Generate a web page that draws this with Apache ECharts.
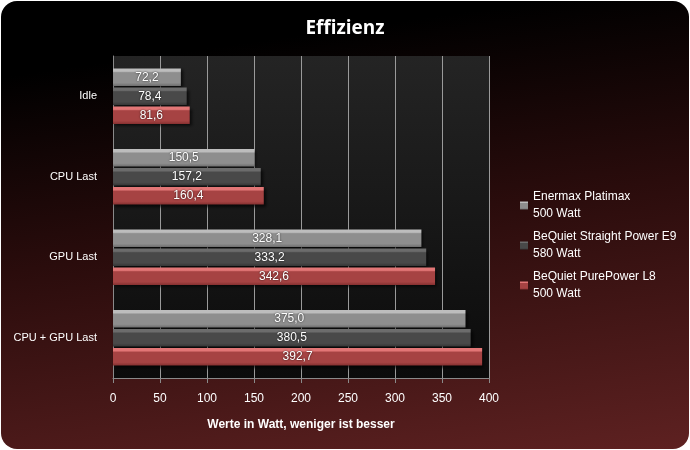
<!DOCTYPE html>
<html>
<head>
<meta charset="utf-8">
<script src="https://cdn.jsdelivr.net/npm/echarts@6/dist/echarts.min.js"></script>
<style>
  html, body { margin: 0; padding: 0; background: #fff; }
  #frame {
    width: 688px; height: 448px; margin: 1px;
    border-radius: 16px; overflow: hidden;
    background: linear-gradient(172deg, #000 0%, #000 14%, #2a0c0c 50%, #5e2121 100%);
  }
  #main { width: 690px; height: 450px; margin: -1px; }
</style>
</head>
<body>
<div id="frame"><div id="main"></div></div>
<script>
var categories = ['Idle', 'CPU Last', 'GPU Last', 'CPU + GPU Last'];
var enermax = [72.2, 150.5, 328.1, 375.0];
var straightPower = [78.4, 157.2, 333.2, 380.5];
var purePower = [81.6, 160.4, 342.6, 392.7];
var xTicks = [0, 400, 50];

function bevel(top, body, bottom) {
    return new echarts.graphic.LinearGradient(0, 0, 0, 1, [
        { offset: 0, color: top },
        { offset: 0.16, color: top },
        { offset: 0.24, color: body },
        { offset: 0.82, color: body },
        { offset: 1, color: bottom }
    ]);
}

function commaLabel(p) {
    return p.value.toFixed(1).replace('.', ',');
}

var font = 'Liberation Sans';
var myChart = echarts.init(document.getElementById('main'));

function barSeries(name, data, color) {
    return {
        name: name,
        type: 'bar',
        data: data,
        barGap: '9%',
        barCategoryGap: '31%',
        itemStyle: {
            color: color,
            shadowBlur: 3,
            shadowColor: 'rgba(0,0,0,0.7)',
            shadowOffsetX: 2,
            shadowOffsetY: 2
        },
        label: {
            show: true,
            position: 'inside',
            formatter: commaLabel,
            color: '#fff',
            fontFamily: font,
            fontSize: 12,
            textShadowColor: 'rgba(0,0,0,0.8)',
            textShadowBlur: 2
        }
    };
}

var option = {
    backgroundColor: 'transparent',
    title: {
        text: 'Effizienz',
        left: 'center',
        top: 14,
        textStyle: { color: '#fff', fontSize: 19, fontWeight: 'bold', fontFamily: 'Open Sans' }
    },
    legend: {
        orient: 'vertical',
        left: 520,
        top: 180,
        padding: 0,
        itemWidth: 8,
        itemHeight: 8,
        itemGap: -11,
        icon: 'rect',
        textStyle: { color: '#fff', fontFamily: font, fontSize: 12, lineHeight: 17, padding: [17, 0, 0, 0] },
        data: ['Enermax Platimax\n500 Watt', 'BeQuiet Straight Power E9\n580 Watt', 'BeQuiet PurePower L8\n500 Watt']
    },
    grid: {
        left: 113,
        right: 201,
        top: 56,
        bottom: 72,
        show: true,
        borderWidth: 0,
        backgroundColor: new echarts.graphic.LinearGradient(0, 0, 0, 1, [
            { offset: 0, color: '#242424' },
            { offset: 1, color: '#0b0b0b' }
        ])
    },
    xAxis: {
        type: 'value',
        min: xTicks[0],
        max: xTicks[1],
        interval: xTicks[2],
        name: 'Werte in Watt, weniger ist besser',
        nameLocation: 'middle',
        nameGap: 41,
        nameTextStyle: { color: '#fff', fontFamily: font, fontSize: 12, fontWeight: 'bold' },
        axisLine: { show: true, lineStyle: { color: '#8a8a8a' } },
        axisTick: { show: true, length: 5, lineStyle: { color: '#8a8a8a' } },
        axisLabel: { color: '#fff', fontFamily: font, fontSize: 12, margin: 15 },
        splitLine: { show: true, lineStyle: { color: '#9a9a9a' } }
    },
    yAxis: {
        type: 'category',
        inverse: true,
        data: categories,
        axisLine: { show: true, lineStyle: { color: '#8a8a8a' } },
        axisTick: { show: false },
        axisLabel: { color: '#fff', fontFamily: font, fontSize: 11, margin: 16 }
    },
    series: [
        barSeries('Enermax Platimax\n500 Watt', enermax, bevel('#bdbdbd', '#8e8e8e', '#6e6e6e')),
        barSeries('BeQuiet Straight Power E9\n580 Watt', straightPower, bevel('#6c6c6c', '#494949', '#363636')),
        barSeries('BeQuiet PurePower L8\n500 Watt', purePower, bevel('#e27676', '#a64343', '#853030'))
    ]
};

myChart.setOption(option);
</script>
</body>
</html>
